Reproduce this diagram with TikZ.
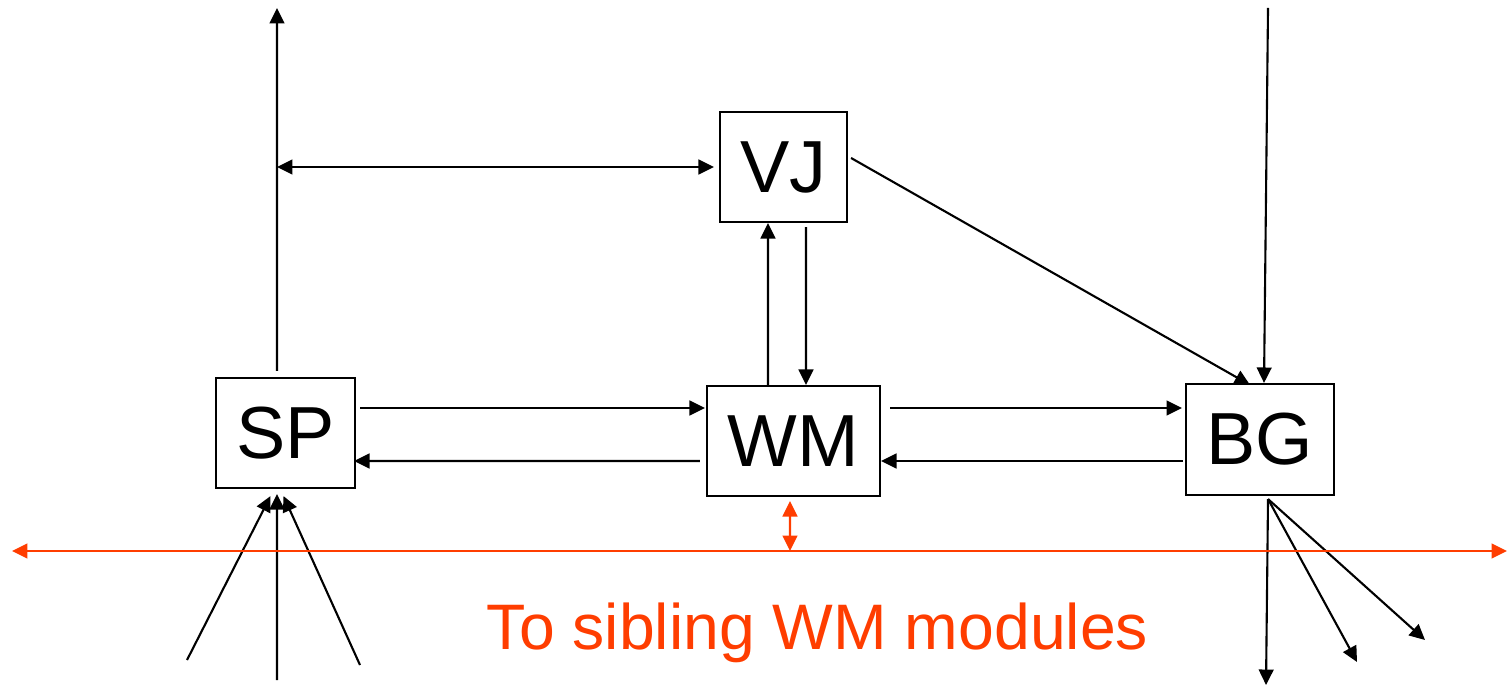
\documentclass[tikz,border=0pt]{standalone}
\usepackage{fontspec}
\setmainfont{Liberation Sans}
\usepackage{xcolor}
\usetikzlibrary{positioning, arrows.meta, calc}
\definecolor{wmInk}{HTML}{000000}
\definecolor{wmRed}{HTML}{FF3D00}
\tikzset{
  modbox/.style={draw=wmInk, line width=0.6pt, minimum height=1.10cm, inner sep=0pt,
                 font=\fontsize{21}{24}\selectfont},
  arr/.style={draw=wmInk, line width=0.6pt, -{Triangle[length=4.4pt,width=4.2pt]}},
  dblarr/.style={draw=wmInk, line width=0.6pt, {Triangle[length=4.4pt,width=4.2pt]}-{Triangle[length=4.4pt,width=4.2pt]}},
  redarr/.style={draw=wmRed, line width=0.6pt, {Triangle[length=4.4pt,width=4.2pt]}-{Triangle[length=4.4pt,width=4.2pt]}}
}

\begin{document}
\begin{tikzpicture}
    \useasboundingbox (0,0) rectangle (15.08,-6.85);
    % modules
    \node[modbox, minimum width=1.39cm] (sp) at (2.855,-4.33) {SP};
    \node[modbox, minimum width=1.73cm] (wm) at (7.935,-4.41) {WM};
    \node[modbox, minimum width=1.48cm, minimum height=1.11cm] (bg) at (12.60,-4.395) {BG};
    \node[modbox, minimum width=1.27cm] (vj) at (7.835,-1.67) {VJ};
    % free ends
    \coordinate (spout) at (2.77,-0.08);
    \coordinate (tap) at (2.77,-1.67);
    \coordinate (bgin) at (12.68,-0.08);
    \coordinate (in1) at (1.87,-6.60);
    \coordinate (in2) at (2.77,-6.80);
    \coordinate (in3) at (3.60,-6.65);
    \coordinate (out1) at (12.66,-6.85);
    \coordinate (out2) at (13.57,-6.62);
    \coordinate (out3) at (14.25,-6.40);
    \coordinate (sibl) at (0.12,-5.51);
    \coordinate (sibr) at (15.07,-5.51);
    \coordinate (redtap) at (7.90,-5.51);

    \draw[arr] ([shift={(-0.085,0.06)}]sp.north) -- (spout);
    \draw[dblarr] (tap) -- ([xshift=-0.05cm]vj.west);
    \draw[arr] ([shift={(0.03,0.09)}]vj.east) -- ([shift={(-0.10,-0.02)}]bg.north);
    \draw[arr] (bgin) -- ([xshift=0.04cm]bg.north);
    \draw[arr] ([xshift=-0.255cm]wm.north) -- ([xshift=-0.155cm]vj.south);
    \draw[arr] ([shift={(0.225,-0.04)}]vj.south) -- ([xshift=0.125cm]wm.north);
    \draw[arr] ([shift={(0.04,0.25)}]sp.east) -- ([shift={(-0.01,0.33)}]wm.west);
    \draw[arr] ([shift={(-0.06,-0.20)}]wm.west) -- ([shift={(-0.02,-0.28)}]sp.east);
    \draw[arr] ([shift={(0.09,0.33)}]wm.east) -- ([shift={(-0.03,0.315)}]bg.west);
    \draw[arr] ([shift={(-0.02,-0.215)}]bg.west) -- ([yshift=-0.20cm]wm.east);
    \draw[arr] (in1) -- ([shift={(-0.15,-0.07)}]sp.south);
    \draw[arr] (in2) -- ([shift={(-0.085,-0.05)}]sp.south);
    \draw[arr] (in3) -- ([shift={(-0.02,-0.07)}]sp.south);
    \draw[arr] ([shift={(0.08,-0.03)}]bg.south) -- (out1);
    \draw[arr] ([shift={(0.08,-0.03)}]bg.south) -- (out2);
    \draw[arr] ([shift={(0.08,-0.03)}]bg.south) -- (out3);
    % siblings
    \draw[redarr] (sibl) -- (sibr);
    \draw[redarr] ([shift={(-0.035,-0.04)}]wm.south) -- (redtap);
    \node[anchor=base, text=wmRed, font=\fontsize{18.3}{22}\selectfont] (sibtxt) at (8.175,-6.49) {To sibling WM modules};
\end{tikzpicture}
\end{document}
